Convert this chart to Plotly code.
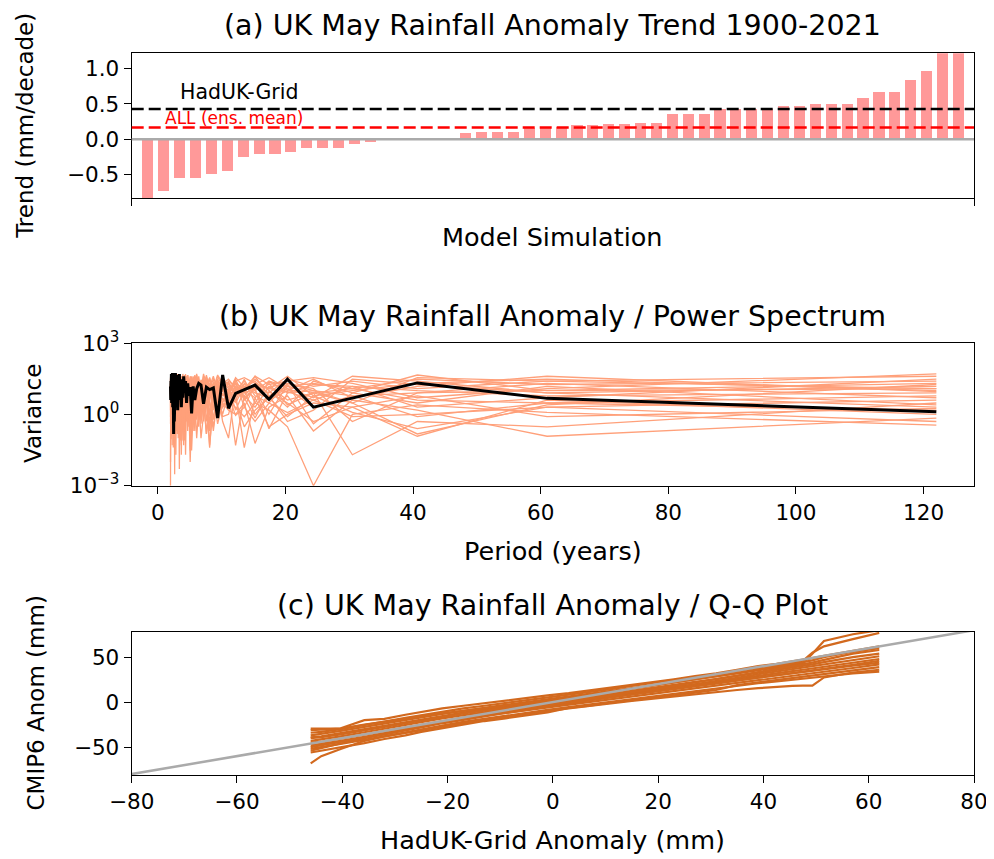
import plotly.graph_objects as go

# The page body keeps the browser's default 8px margin, so the figure is
# sized to fill the rest of the 994x859 window exactly.
WIN_W, WIN_H = 994, 859
OFF = 8
W, H = WIN_W - OFF, WIN_H - OFF
FONT = "DejaVu Sans"

# ---------------- panel (a): trend per model simulation ----------------
TREND_MM_PER_DECADE = [
    -0.90, -0.74, -0.56, -0.56, -0.50, -0.45, -0.26, -0.21, -0.21, -0.19,
    -0.13, -0.13, -0.13, -0.07, -0.04, -0.01, -0.005, 0.0, 0.005, 0.01,
    0.08, 0.10, 0.10, 0.10, 0.16, 0.16, 0.17, 0.20, 0.20, 0.21,
    0.21, 0.23, 0.23, 0.35, 0.35, 0.35, 0.42, 0.42, 0.42, 0.42,
    0.47, 0.47, 0.50, 0.50, 0.50, 0.58, 0.66, 0.66, 0.83, 0.96,
    1.30, 1.45,
]
SIMULATION_INDEX = list(range(len(TREND_MM_PER_DECADE)))
HADUK_TREND = 0.43
ENS_MEAN_TREND = 0.165

# ---------------- panel (b): power spectrum ----------------
PERIOD_YEARS = [
    122.0, 61.0, 40.67, 30.5, 24.4, 20.33, 17.43, 15.25, 13.56, 12.2,
    11.09, 10.17, 9.385, 8.714, 8.133, 7.625, 7.176, 6.778, 6.421, 6.1,
    5.81, 5.545, 5.304, 5.083, 4.88, 4.692, 4.519, 4.357, 4.207, 4.067,
    3.935, 3.813, 3.697, 3.588, 3.486, 3.389, 3.297, 3.211, 3.128, 3.05,
    2.976, 2.905, 2.837, 2.773, 2.711, 2.652, 2.596, 2.542, 2.49, 2.44,
    2.392, 2.346, 2.302, 2.259, 2.218, 2.179, 2.14, 2.103, 2.068, 2.033,
    2.0,
]
HADUK_VARIANCE = [
    1.3, 4.7, 21, 5.0, 2.0, 30, 4.3, 17, 11, 7.6,
    1.8, 45, 0.7, 13, 11, 14, 2.8, 17, 20, 12,
    4, 15, 1.1, 14, 6, 20, 3, 25, 8, 40,
    5, 12, 2, 30, 10, 50, 4, 20, 1.5, 45,
    8, 35, 3, 55, 12, 25, 0.5, 15, 0.15, 6,
    40, 2, 55, 8, 30, 3, 50, 10, 25, 4,
    15,
]
CMIP6_VARIANCE = [
    [25, 18, 30, 12, 20, 15, 25, 10, 18, 8, 22,
     9, 30, 5, 14, 2, 22, 8, 40, 6, 11,
     3, 25, 9, 1.5, 18, 7, 35, 4, 12, 20,
     2.5, 15, 8, 45, 3, 10, 0.8, 25, 6, 14,
     30, 2, 9, 18, 5, 40, 1.2, 12, 7, 22,
     3, 15, 0.4, 28, 9, 4, 35, 11, 2, 18],
    [8, 6, 10, 15, 4, 9, 12, 20, 6, 14, 5,
     4, 12, 0.6, 20, 8, 3, 15, 6, 25, 1,
     10, 5, 18, 0.3, 12, 30, 4, 9, 2, 16,
     7, 0.05, 22, 5, 13, 3, 40, 8, 1.5, 11,
     6, 20, 2, 14, 0.9, 25, 5, 10, 3, 30,
     8, 1, 16, 4, 22, 0.6, 12, 6, 18, 9],
    [1.5, 3, 0.8, 6, 2, 12, 5, 8, 15, 3, 10,
     15, 2, 8, 0.4, 20, 6, 1, 12, 4, 25,
     0.2, 10, 3, 18, 7, 0.9, 14, 5, 30, 2,
     11, 6, 0.08, 16, 4, 22, 1.5, 9, 3, 12,
     0.5, 20, 7, 2, 15, 0.3, 10, 25, 4, 8,
     1, 18, 5, 0.2, 12, 3, 25, 0.7, 9, 0.001],
    [40, 25, 12, 25, 15, 30, 8, 14, 4, 20, 12,
     25, 10, 40, 15, 30, 8, 20, 12, 50, 18,
     9, 35, 14, 22, 6, 28, 16, 45, 10, 20,
     30, 12, 25, 5, 18, 40, 9, 15, 35, 11,
     20, 8, 50, 14, 25, 10, 30, 6, 22, 40,
     15, 28, 9, 45, 12, 20, 35, 8, 25, 14],
    [3, 0.3, 0.5, 0.02, 8, 4, 15, 2, 6, 0.05, 8,
     1, 6, 0.2, 3, 12, 0.5, 8, 2, 0.1, 5,
     15, 1.2, 0.03, 7, 3, 10, 0.6, 4, 20, 1.5,
     0.25, 9, 2, 14, 0.005, 6, 3, 11, 0.4, 8,
     2, 16, 1, 0.15, 7, 4, 0.8, 12, 2.5, 0.3,
     10, 5, 1.5, 18, 0.7, 6, 0.09, 9, 3, 13],
    [12, 10, 45, 8, 25, 2, 10, 30, 12, 6, 18,
     30, 5, 18, 9, 45, 3, 22, 12, 7, 35,
     14, 2, 25, 10, 40, 6, 16, 28, 4, 20,
     12, 35, 8, 18, 2.5, 30, 14, 50, 6, 22,
     9, 40, 16, 5, 28, 12, 20, 3, 35, 10,
     25, 7, 45, 15, 4, 30, 18, 8, 40, 12],
    [0.35, 1.2, 2.5, 1, 0.001, 0.3, 1.5, 3, 0.8, 2, 4,
     2, 0.8, 5, 0.04, 3, 1.5, 8, 0.6, 4, 0.2,
     6, 1, 0.01, 3.5, 0.5, 7, 2, 0.3, 5, 1.2,
     0.08, 4, 2.5, 0.9, 6, 0.15, 3, 1.8, 0.4, 5,
     1, 0.02, 4, 2, 0.6, 8, 1.4, 0.25, 3, 0.7,
     5, 1.6, 0.05, 2.5, 6, 0.4, 3, 1, 0.12, 4],
    [5, 20, 8, 0.5, 12, 20, 3, 6, 25, 10, 2,
     12, 20, 3, 35, 8, 15, 0.7, 25, 10, 4,
     18, 30, 6, 12, 2, 40, 9, 20, 1.5, 14,
     25, 5, 16, 0.4, 22, 11, 35, 3, 18, 8,
     28, 1.2, 14, 45, 6, 20, 10, 2, 30, 15,
     0.9, 22, 8, 12, 40, 3, 18, 25, 5, 10],
    [18, 2.5, 0.15, 3, 10, 8, 0.25, 12, 5, 30, 7,
     6, 18, 1.5, 10, 25, 4, 14, 0.3, 20, 8,
     2, 30, 12, 5, 16, 0.8, 22, 7, 12, 3,
     40, 9, 1, 18, 6, 25, 0.2, 14, 10, 4,
     20, 8, 30, 0.7, 12, 5, 18, 35, 2, 9,
     15, 0.5, 25, 7, 10, 1.8, 20, 4, 30, 6],
    [2, 8, 18, 30, 1.5, 0.5, 6, 1, 10, 15, 0.1,
     0.5, 10, 4, 0.05, 15, 2, 8, 20, 0.9, 6,
     12, 0.3, 5, 25, 1.5, 9, 0.02, 14, 3, 7,
     18, 1, 10, 0.6, 4, 12, 2, 20, 0.15, 8,
     5, 15, 0.8, 10, 3, 0.1, 18, 6, 1.2, 12,
     4, 9, 0.3, 16, 2, 11, 0.7, 7, 14, 1.5],
    [50, 12, 5, 20, 35, 25, 18, 40, 8, 12, 30,
     20, 45, 12, 30, 18, 50, 10, 25, 35, 15,
     40, 8, 28, 20, 45, 12, 30, 18, 25, 50,
     14, 35, 22, 10, 40, 16, 28, 45, 12, 20,
     35, 18, 25, 9, 40, 30, 14, 50, 20, 10,
     30, 45, 16, 22, 12, 35, 25, 40, 15, 28],
    [0.7, 0.12, 1.5, 4, 0.2, 6, 2, 0.06, 3, 1, 1.5,
     3, 0.4, 7, 1.2, 0.15, 5, 2, 10, 0.6, 4,
     1, 8, 0.08, 3, 6, 0.9, 12, 2, 0.3, 5,
     1.5, 0.02, 7, 3, 9, 0.5, 4, 1.2, 15, 0.2,
     6, 2.5, 0.9, 8, 0.003, 3, 10, 1.5, 5, 0.6,
     2, 12, 0.4, 4, 1, 7, 0.2, 9, 2.5, 0.8],
    [10, 30, 20, 10, 6, 40, 12, 20, 35, 25, 6,
     35, 14, 22, 6, 40, 18, 28, 9, 16, 45,
     12, 25, 4, 30, 20, 10, 50, 15, 8, 28,
     20, 12, 40, 25, 9, 18, 30, 6, 45, 14,
     10, 28, 20, 35, 12, 25, 5, 40, 16, 22,
     8, 30, 14, 20, 50, 10, 6, 28, 18, 35],
    [1, 4, 0.12, 2, 3, 1, 0.3, 5, 0.04, 7, 2.5,
     8, 2, 14, 5, 0.5, 20, 3, 9, 1.2, 12,
     4, 18, 0.7, 10, 2.5, 25, 6, 0.15, 15, 3,
     9, 1.8, 20, 5, 0.6, 14, 8, 2, 22, 1,
     12, 4, 0.35, 16, 9, 2, 25, 0.8, 6, 18,
     3, 10, 1.2, 14, 5, 0.25, 20, 2, 8, 0.4],
    [6, 3, 4, 12, 8, 2.5, 20, 5, 10, 1.5, 15,
     20, 1, 12, 6, 25, 0.8, 9, 16, 3, 30,
     5, 14, 1.2, 22, 8, 3, 18, 0.5, 11, 6,
     28, 2, 13, 7, 0.9, 20, 4, 35, 10, 1.5,
     16, 6, 2.5, 24, 0.2, 12, 8, 18, 1, 9,
     25, 3, 14, 0.8, 20, 6, 11, 2, 30, 7],
    [15, 8, 25, 40, 5, 12, 35, 18, 2, 25, 9,
     14, 40, 8, 20, 2, 30, 12, 5, 45, 10,
     22, 6, 35, 15, 1, 25, 9, 40, 18, 4,
     12, 30, 7, 20, 45, 3, 16, 25, 8, 35,
     2, 18, 10, 40, 14, 6, 28, 12, 50, 5,
     20, 9, 35, 1.5, 25, 15, 4, 30, 10, 22],
    [2.5, 15, 3, 8, 0.4, 18, 1, 10, 20, 4, 12,
     3, 8, 20, 1, 14, 5, 0.4, 18, 7, 2,
     25, 4, 10, 0.9, 16, 30, 2, 8, 0.3, 12,
     5, 20, 1.5, 9, 14, 0.6, 25, 3, 7, 18,
     1, 10, 22, 4, 0.5, 14, 6, 30, 2, 11,
     7, 0.2, 16, 5, 9, 25, 1.2, 13, 4, 20],
    [9, 40, 15, 5, 30, 10, 4, 25, 14, 35, 8,
     18, 6, 30, 12, 9, 40, 4, 22, 15, 8,
     35, 10, 25, 5, 45, 14, 7, 28, 20, 12,
     6, 40, 16, 30, 9, 22, 5, 18, 50, 10,
     25, 14, 8, 35, 20, 3, 28, 10, 16, 40,
     12, 22, 6, 30, 18, 45, 9, 15, 25, 5],
    [1.8, 0.8, 6, 2, 0.5, 3, 9, 0.7, 5, 12, 1,
     0.8, 5, 2, 10, 0.15, 4, 12, 1.5, 6, 0.4,
     9, 3, 15, 0.7, 5, 1.2, 20, 0.08, 7, 2.5,
     11, 0.5, 4, 14, 1, 6, 0.3, 10, 3, 0.9,
     18, 2, 5, 0.6, 12, 4, 1.5, 8, 0.04, 6,
     3, 15, 1, 5, 0.5, 9, 2, 12, 0.7, 4],
    [30, 5, 2, 15, 18, 8, 25, 3, 30, 6, 20,
     10, 25, 4, 18, 35, 7, 14, 2, 28, 12,
     6, 40, 9, 16, 3, 22, 11, 35, 5, 18,
     14, 8, 30, 2, 20, 10, 45, 6, 14, 25,
     4, 30, 12, 8, 20, 0.8, 16, 28, 9, 14,
     35, 5, 12, 25, 3, 18, 40, 10, 6, 22],
    [4, 2, 1, 0.8, 4, 1.2, 3, 0.5, 2, 0.9, 6,
     2, 6, 0.3, 3, 8, 1, 0.1, 5, 2, 10,
     0.6, 4, 1.5, 7, 0.2, 3, 9, 1.2, 0.05, 5,
     2, 8, 0.4, 3.5, 12, 1, 6, 0.15, 4, 2,
     9, 0.7, 5, 1.8, 0.02, 7, 3, 11, 1, 0.4,
     6, 2, 8, 0.9, 4, 15, 0.3, 5, 1.5, 0.01],
    [12, 25, 35, 3, 8, 15, 6, 40, 12, 20, 3,
     28, 12, 6, 35, 15, 9, 25, 3, 18, 40,
     8, 20, 12, 30, 5, 16, 45, 10, 22, 6,
     35, 14, 9, 28, 4, 18, 12, 40, 7, 20,
     15, 45, 5, 25, 11, 30, 2, 20, 14, 8,
     40, 12, 22, 6, 30, 16, 9, 45, 12, 20],
    [0.5, 2, 0.25, 1.2, 6, 0.8, 5, 1.5, 0.3, 4, 2,
     5, 1, 8, 0.2, 4, 2, 12, 0.6, 3, 7,
     1.2, 0.03, 6, 2.5, 10, 0.5, 4, 1, 8, 0.2,
     3, 14, 1.5, 0.7, 5, 2, 0.1, 9, 3, 1.2,
     6, 0.4, 2, 11, 1, 0.25, 4, 7, 0.6, 2,
     10, 0.9, 3, 0.15, 6, 1.5, 8, 0.5, 3, 12],
    [20, 10, 8, 6, 10, 20, 14, 12, 8, 14, 25,
     12, 3, 18, 8, 30, 14, 5, 25, 9, 16,
     2, 20, 40, 7, 12, 25, 3, 16, 30, 9,
     18, 5, 12, 35, 8, 2, 22, 14, 6, 40,
     10, 18, 4, 12, 25, 8, 45, 3, 20, 15,
     6, 28, 10, 18, 2, 35, 12, 5, 20, 30],
]

# ---------------- panel (c): Q-Q plot ----------------
HADUK_QUANTILES = [
    -46.0, -44.0, -40.3, -35.8, -32.0, -28.0, -25.0, -21.0, -17.0, -13.0,
    -9.0, -5.0, -1.0, 3.0, 7.0, 11.0, 15.0, 19.0, 23.0, 27.0,
    31.0, 35.0, 39.0, 42.5, 45.5, 47.5, 49.3, 51.5, 57.0, 62.0,
]
CMIP6_QUANTILES = [
    [-56, -54, -50, -45.5, -41, -37, -33, -29, -25, -21, -18, -14.5, -11.5, -6.5, -4,
     -0.5, 2, 4.5, 7.5, 10.5, 13.5, 19, 22, 24.5, 26.5, 28, 29.5, 31, 35.5, 39],
    [-29.5, -29.5, -29, -20, -18.5, -14, -11, -7, -4, -1, 2, 4.5, 7.5, 10, 13,
     16, 19.5, 22.5, 25.5, 29, 32, 36, 40, 42.5, 45, 47, 49, 51.5, 57, 62],
    [-68, -60, -52, -43, -38, -33.5, -30, -26, -22, -18.5, -15, -11.5, -8.5, -5.5, -2.5,
     0.5, 3.5, 6, 9, 12, 15, 18, 21, 23, 25, 26.5, 27.5, 29, 32, 34],
    [-37, -35.5, -32, -27.5, -24, -20, -17, -13, -9.5, -6, -3, 0, 3, 6, 9,
     12.5, 15.5, 19, 22, 25.5, 28.5, 32, 35.5, 38.5, 41, 43, 53.7, 68, 75.5, 80],
    [-34, -33, -30, -25, -21.5, -17.5, -14.5, -10.5, -7, -4, -1, 2, 5, 8, 11,
     14.5, 18, 21.5, 24.5, 28, 31, 34.5, 38, 41, 44, 46, 55, 62, 70, 77],
    [-52, -50, -47, -42, -38, -34, -31, -27, -23, -19.5, -16.5, -13, -10, -7, -4.5,
     -1.5, 1.5, 4, 6.5, 9, 11, 13.5, 15.5, 17, 18, 18.3, 18.4, 27.5, 33, 36],
    [-48, -46.5, -43, -38.5, -34, -30, -26.5, -22.5, -18.5, -15, -12, -9, -6, -3, 0,
     3.5, 6.5, 9, 12, 15, 18, 21, 24.5, 27, 29.5, 31, 32, 34, 38, 42],
    [-43, -41.5, -38, -33.5, -29.5, -25.5, -22, -18, -14.5, -11, -8, -5, -2, 1, 4,
     7.5, 10.5, 13.5, 16.5, 19.5, 22.5, 26, 29.5, 32, 34.5, 36, 37.5, 39.5, 44, 48],
    [-39, -38, -34.5, -30, -26, -22, -19, -15, -11.5, -8, -5, -2, 1, 4, 7.5,
     11, 14.5, 18, 21.5, 25, 28.5, 32.5, 36.5, 39.5, 42.5, 44.5, 46.5, 50, 56, 60],
    [-54, -51, -46, -40, -35.5, -31.5, -28, -23.5, -19.5, -15.5, -12, -8.5, -5, -1.5, 2,
     5.5, 9, 12.5, 16, 19.5, 23, 27, 31, 34, 37, 38.5, 40, 42.5, 47, 51],
    [-31, -30.5, -29.5, -25, -22, -19, -16, -12.5, -9.5, -6.5, -4, -1.5, 1, 3.5, 6,
     9, 11.5, 14, 16.5, 19, 21.5, 24.5, 27.5, 30, 32, 33.5, 35, 37, 40.5, 44],
    [-45, -44, -40.5, -36, -32, -28, -24.5, -20.5, -17, -13, -10, -7, -4, -1, 2,
     5.5, 8.5, 11.5, 14.5, 17.5, 20.5, 24, 27, 29.5, 32, 33.5, 35, 37, 41.5, 46],
    [-40, -39, -36, -31.5, -27.5, -23.5, -20, -16, -12.5, -9.5, -6.5, -3.5, -0.5, 2.5, 5.5,
     9, 12.5, 16, 19, 22.5, 25.5, 29, 33, 35.5, 38, 40, 42, 44.5, 50, 54],
    [-50, -48, -44.5, -40, -35.5, -31, -27, -22.5, -18, -14, -10.5, -7, -3.5, 0, 3.5,
     7, 11, 14.5, 18, 22, 25.5, 29.5, 33.5, 37, 40, 42, 44, 47, 54, 58],
]
ONE_TO_ONE = [-80, 80]

for m in CMIP6_VARIANCE:
    assert len(m) == len(PERIOD_YEARS), len(m)
assert len(HADUK_VARIANCE) == len(PERIOD_YEARS)
for m in CMIP6_QUANTILES:
    assert len(m) == len(HADUK_QUANTILES), len(m)


# ---------------- figure ----------------
# helpers: convert window pixel positions into paper fractions
def fx(p):
    return (p - OFF) / W


def fy(p):
    return 1 - (p - OFF) / H


X_DOM = [fx(131.7), fx(974.0)]
A_DOM = [fy(198.3), fy(53.3)]
B_DOM = [fy(485.7), fy(343.0)]
C_DOM = [fy(775.0), fy(632.0)]

fig = go.Figure()

fig.add_trace(go.Bar(
    x=SIMULATION_INDEX, y=TREND_MM_PER_DECADE, width=0.7,
    marker=dict(color="rgba(255,0,0,0.4)", line=dict(width=0)),
    xaxis="x", yaxis="y", hoverinfo="skip",
))

for m in CMIP6_VARIANCE:
    fig.add_trace(go.Scatter(
        x=PERIOD_YEARS, y=m, mode="lines",
        line=dict(color="#FFA07A", width=1.3),
        xaxis="x2", yaxis="y2", hoverinfo="skip",
    ))
fig.add_trace(go.Scatter(
    x=PERIOD_YEARS, y=HADUK_VARIANCE, mode="lines",
    line=dict(color="black", width=3),
    xaxis="x2", yaxis="y2", hoverinfo="skip",
))

for m in CMIP6_QUANTILES:
    fig.add_trace(go.Scatter(
        x=HADUK_QUANTILES, y=m, mode="lines",
        line=dict(color="#D2691E", width=2.2),
        xaxis="x3", yaxis="y3", hoverinfo="skip",
    ))
fig.add_trace(go.Scatter(
    x=ONE_TO_ONE, y=ONE_TO_ONE, mode="lines",
    line=dict(color="#AAAAAA", width=2.5),
    xaxis="x3", yaxis="y3", hoverinfo="skip",
))

TICK = 21.5
common = dict(
    showline=True, linecolor="black", linewidth=1.3, mirror=True,
    ticks="outside", ticklen=7, tickwidth=1.3, tickcolor="black",
    showgrid=False, zeroline=False, automargin=False,
    tickfont=dict(family=FONT, size=TICK, color="black"),
)

fig.update_layout(
    width=W, height=H,
    margin=dict(l=0, r=0, t=0, b=0, autoexpand=False),
    paper_bgcolor="white", plot_bgcolor="white",
    showlegend=False,
    bargap=0,
    xaxis=dict(domain=X_DOM, anchor="y", range=[-1, 52],
               tickvals=[-1, 52], showticklabels=False, **common),
    yaxis=dict(domain=A_DOM, anchor="x", range=[-0.84, 1.22],
               tickvals=[-0.5, 0.0, 0.5, 1.0],
               ticktext=["\u22120.5", "0.0", "0.5", "1.0"], **common),
    xaxis2=dict(domain=X_DOM, anchor="y2", range=[-4.08, 127.9],
                tickvals=[0, 20, 40, 60, 80, 100, 120], **common),
    yaxis2=dict(domain=B_DOM, anchor="x2", type="log", range=[-3, 3],
                tickvals=[0.001, 1, 1000],
                ticktext=["10<sup>\u22123</sup>", "10<sup>0</sup>", "10<sup>3</sup>"],
                **common),
    xaxis3=dict(domain=X_DOM, anchor="y3", range=[-80, 80],
                tickvals=[-80, -60, -40, -20, 0, 20, 40, 60, 80],
                ticktext=["\u221280", "\u221260", "\u221240", "\u221220", "0",
                          "20", "40", "60", "80"], **common),
    yaxis3=dict(domain=C_DOM, anchor="x3", range=[-81, 78],
                tickvals=[-50, 0, 50], ticktext=["\u221250", "0", "50"], **common),
)

# horizontal reference lines in panel (a)
fig.add_shape(type="line", xref="x domain", x0=0, x1=1, yref="y", y0=0, y1=0,
              line=dict(color="#AAAAAA", width=2.5))
fig.add_shape(type="line", xref="x domain", x0=0, x1=1, yref="y",
              y0=HADUK_TREND, y1=HADUK_TREND,
              line=dict(color="black", width=2.5, dash="12px,5px"))
fig.add_shape(type="line", xref="x domain", x0=0, x1=1, yref="y",
              y0=ENS_MEAN_TREND, y1=ENS_MEAN_TREND,
              line=dict(color="red", width=2.5, dash="12px,5px"))

XC = (131.7 + 974.0) / 2


def text(s, x, y, size, color="black", xanchor="center", angle=0):
    fig.add_annotation(text=s, xref="paper", yref="paper", x=fx(x), y=fy(y),
                       xanchor=xanchor, yanchor="middle", showarrow=False,
                       textangle=angle,
                       font=dict(family=FONT, size=size, color=color))


TITLE = 28.5
XLABEL = 25.5
YLABEL = 23
text("(a) UK May Rainfall Anomaly Trend 1900-2021", XC, 25.5, TITLE)
text("(b) UK May Rainfall Anomaly / Power Spectrum", XC, 316, TITLE)
text("(c) UK May Rainfall Anomaly / Q-Q Plot", XC, 605, TITLE)
text("Model Simulation", XC, 237, XLABEL)
text("Period (years)", XC, 551, XLABEL)
text("HadUK-Grid Anomaly (mm)", XC, 840, XLABEL)
text("Trend (mm/decade)", 25, 125.8, YLABEL, angle=-90)
text("Variance", 33, 414, YLABEL, angle=-90)
text("CMIP6 Anom (mm)", 35, 703.5, YLABEL, angle=-90)
text("HadUK-Grid", 178.3, 91.7, 20.5, xanchor="left")
text("ALL (ens. mean)", 162.7, 117.7, 17, color="red", xanchor="left")

fig.write_html("out.html")
